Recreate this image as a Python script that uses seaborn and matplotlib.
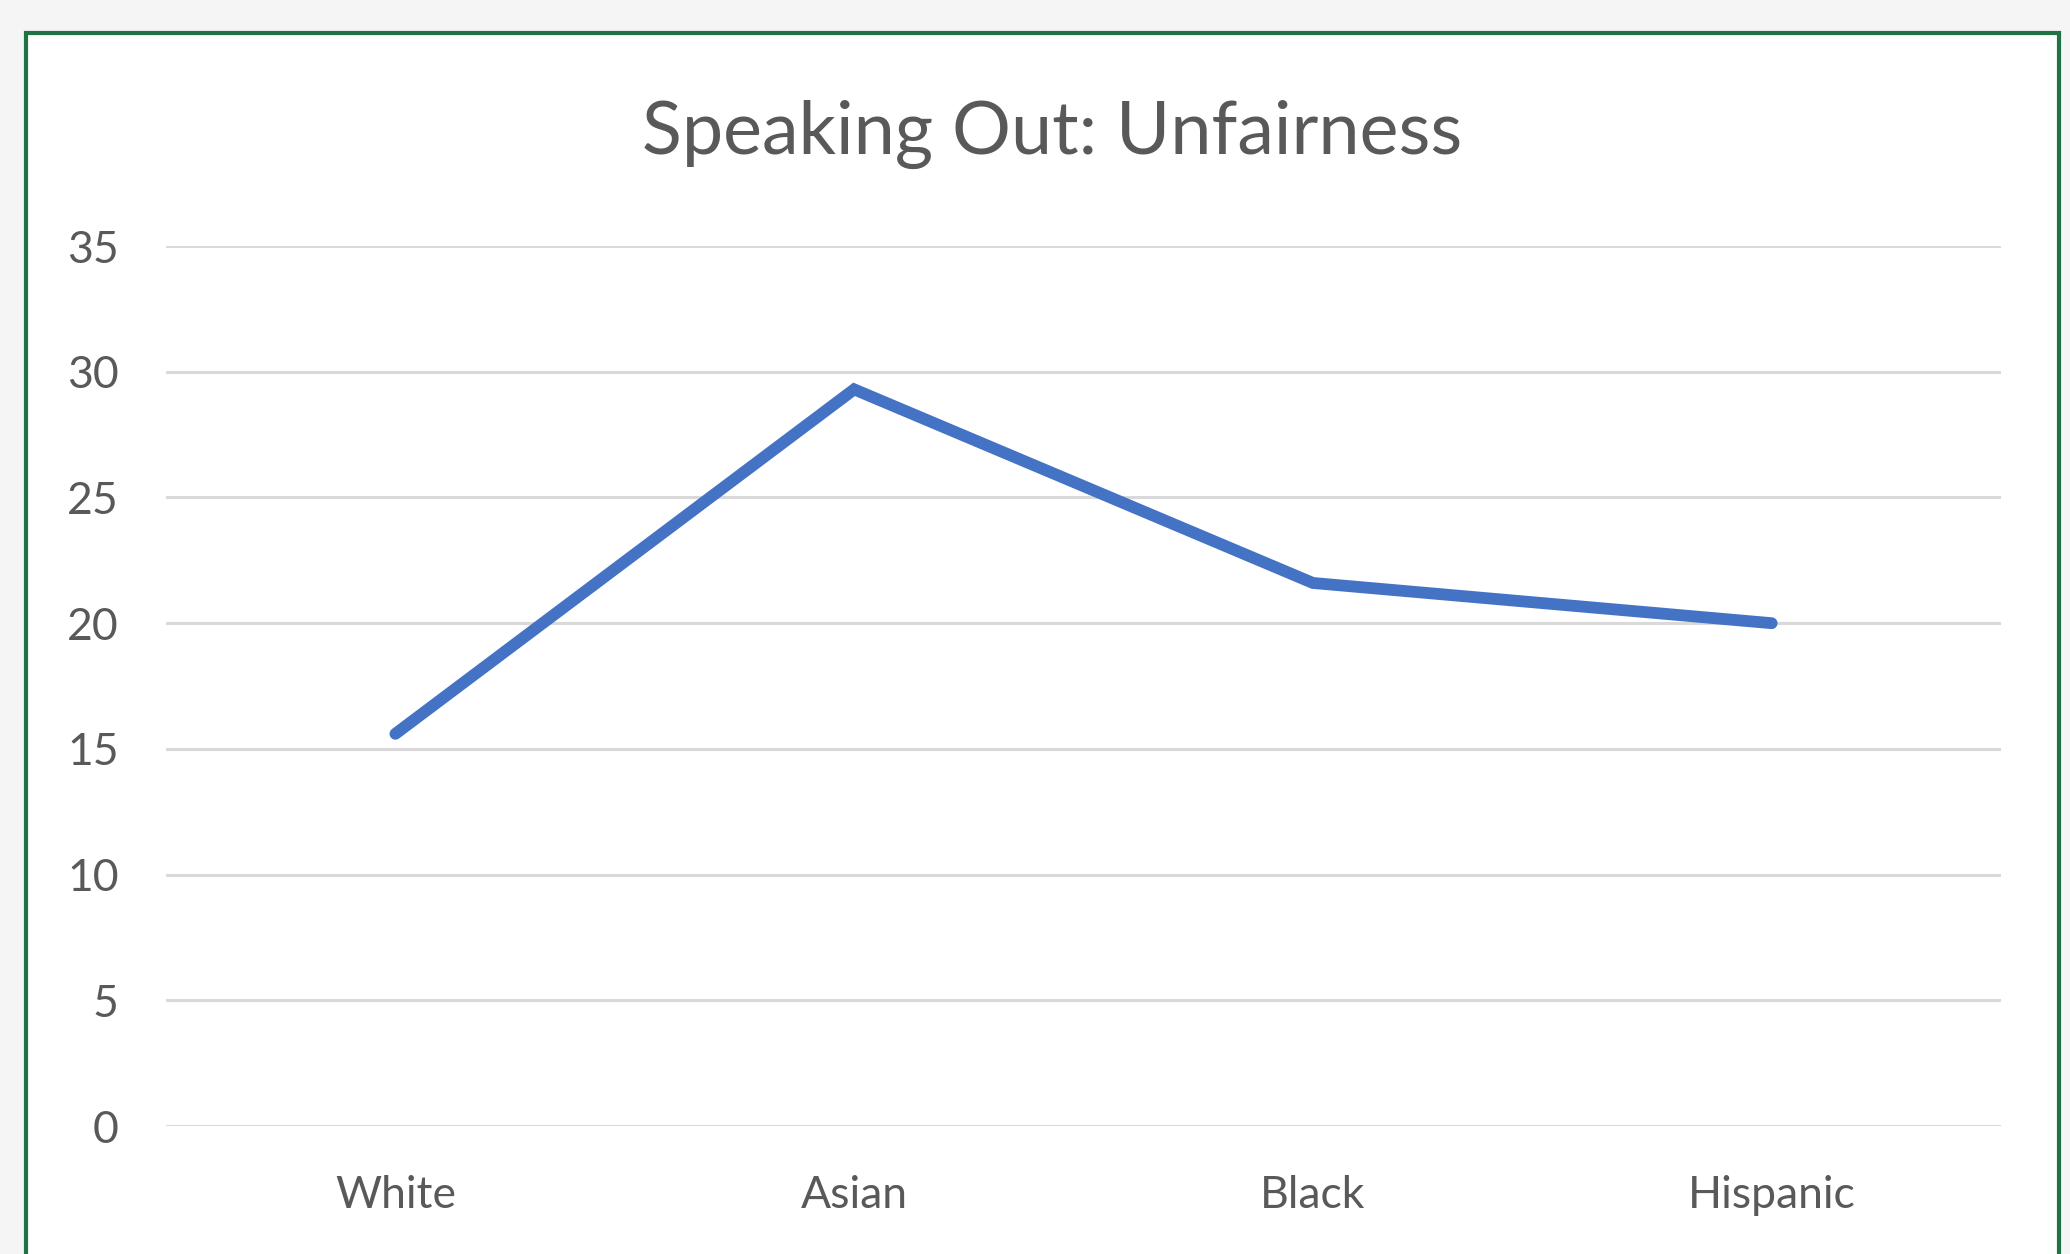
import pandas as pd
import seaborn as sns
import matplotlib.pyplot as plt
from matplotlib.patches import Rectangle

groups = ['White', 'Asian', 'Black', 'Hispanic']
values = [15.6, 29.3, 21.6, 20.0]
yticks = [0, 5, 10, 15, 20, 25, 30, 35]

df = pd.DataFrame({'group': groups, 'value': values})

sns.set_style('white')
plt.rcParams['font.family'] = ['Lato', 'DejaVu Sans']

fig = plt.figure(figsize=(20.7, 12.54), dpi=100, facecolor='#f5f5f5')

# chart area (white, green selection border like excel)
fig.patches.append(Rectangle((26 / 2070, -0.05), (2059 - 26) / 2070, 1 - 33 / 1254 + 0.05,
                             transform=fig.transFigure, facecolor='white',
                             edgecolor='#217346', linewidth=3, zorder=-5))

ax = fig.add_axes([0.0802, 0.102, 0.8865, 0.7018])
ax.set_facecolor('none')

sns.lineplot(data=df, x='group', y='value', ax=ax, color='#4472c4',
             linewidth=8.5, solid_capstyle='round', solid_joinstyle='miter')

ax.set_xlim(-0.5, 3.5)
ax.set_ylim(0, 35)
ax.set_yticks(yticks)
ax.set_yticklabels([str(t) for t in yticks])
ax.grid(axis='y', color='#d9d9d9', linewidth=2.2)
ax.set_axisbelow(True)
for s in ax.spines.values():
    s.set_visible(False)
ax.tick_params(axis='y', length=0, pad=34, labelsize=32, labelcolor='#595959')
ax.tick_params(axis='x', length=0, pad=35, labelsize=32, labelcolor='#595959')
ax.set_xlabel('')
ax.set_ylabel('')

fig.text(1052 / 2070, 1 - 134 / 1254, 'Speaking Out: Unfairness', ha='center', va='center',
         fontsize=53, color='#595959')

fig.savefig('out.png', dpi=100, facecolor=fig.get_facecolor())
